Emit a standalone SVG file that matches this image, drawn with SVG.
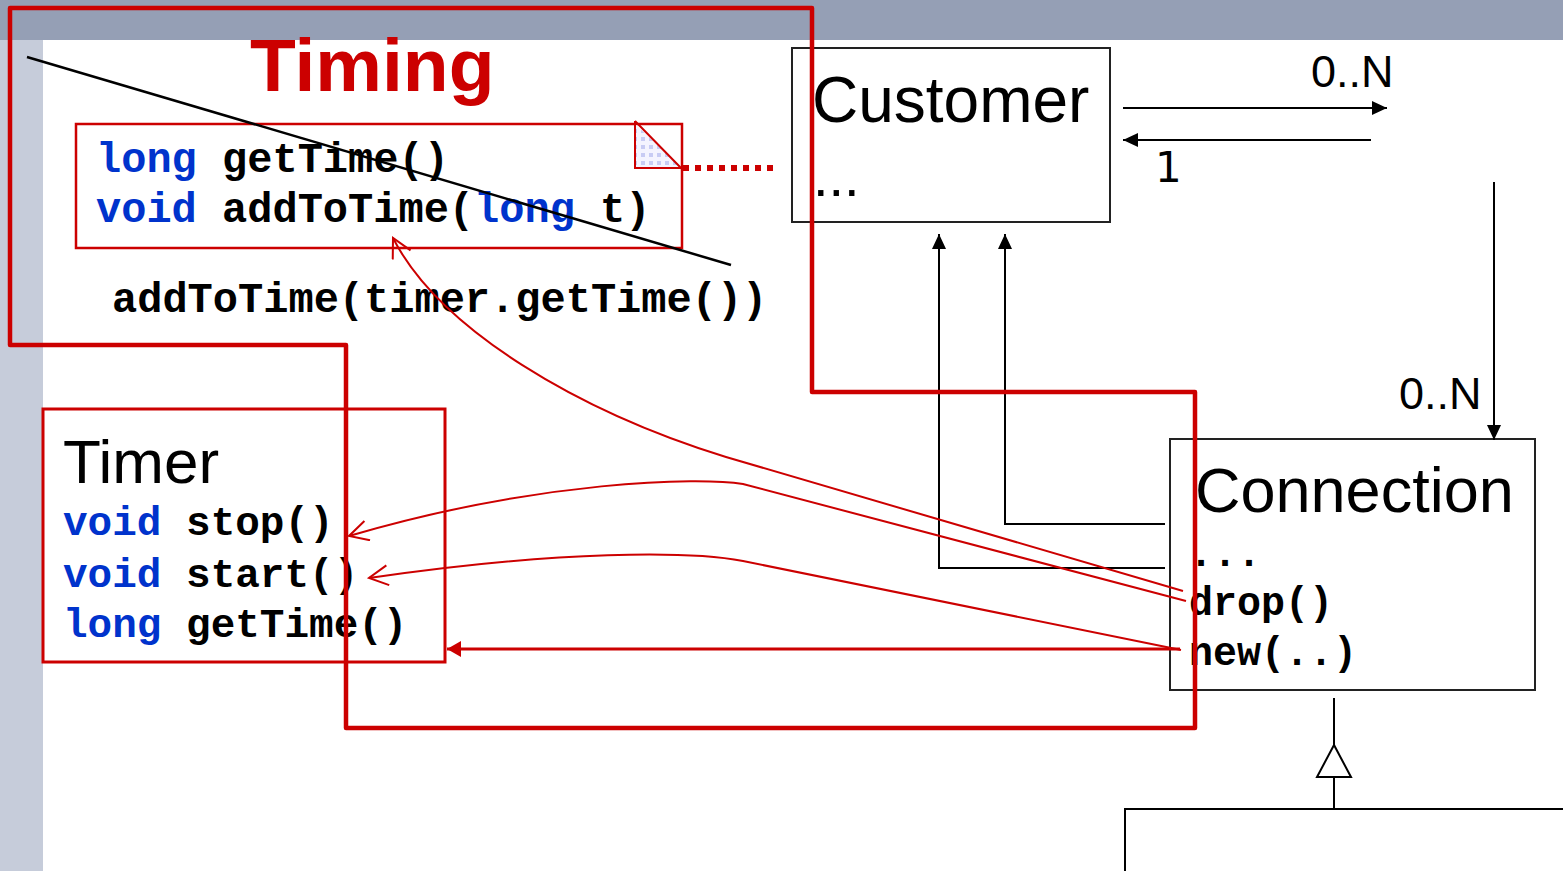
<svg xmlns="http://www.w3.org/2000/svg" width="1563" height="871" viewBox="0 0 1563 871">
<style>
.mono{font-family:"Liberation Mono","Courier New",monospace;font-weight:bold;fill:#000}
.kw{fill:#0033CC}
.sans{font-family:"Liberation Sans",Arial,sans-serif;fill:#000}
.box{fill:#fff;stroke:#222;stroke-width:2}
.blk{fill:none;stroke:#000;stroke-width:2}
.rthin{fill:none;stroke:#CC0000;stroke-width:2}
</style>
<defs>
<pattern id="dots" width="8" height="8" patternUnits="userSpaceOnUse">
<rect width="8" height="8" fill="#F4F4FF"/>
<rect x="1" y="1" width="4" height="4" fill="#C8CCF4"/>
</pattern>
<marker id="ablk" markerUnits="userSpaceOnUse" markerWidth="16" markerHeight="16" refX="15" refY="7" orient="auto">
<path d="M0,0 L15,7 L0,14 z" fill="#000"/>
</marker>
<marker id="ared" markerUnits="userSpaceOnUse" markerWidth="16" markerHeight="18" refX="14" refY="8" orient="auto">
<path d="M0,0 L14,8 L0,16 z" fill="#CC0000"/>
</marker>
<marker id="aopen" markerUnits="userSpaceOnUse" markerWidth="24" markerHeight="24" refX="20" refY="11" orient="auto">
<path d="M1,1 L20,11 L1,21" fill="none" stroke="#CC0000" stroke-width="2"/>
</marker>
</defs>

<rect x="0" y="0" width="1563" height="871" fill="#fff"/>
<rect x="0" y="0" width="1563" height="40" fill="#959FB5"/>
<rect x="0" y="40" width="43" height="831" fill="#C6CCDA"/>

<text x="250" y="91" style="font-family:'Liberation Sans',Arial,sans-serif;font-weight:bold;font-size:75px;fill:#CC0000">Timing</text>

<g id="note">
<rect x="76" y="124" width="606" height="124" fill="#fff" stroke="#CC0000" stroke-width="2.5"/>
<path d="M635,124 L635,168 L682,168 z" fill="url(#dots)"/>
<path d="M635,121 L635,168 L682,168 M635,121 L682,169" fill="none" stroke="#CC0000" stroke-width="2"/>
<text class="mono" x="96" y="172" font-size="42"><tspan class="kw">long</tspan> getTime()</text>
<text class="mono" x="96" y="222" font-size="42"><tspan class="kw">void</tspan> addToTime(<tspan class="kw">long</tspan> t)</text>
</g>

<g id="customer">
<rect class="box" x="792" y="48" width="318" height="174"/>
<text class="sans" x="812" y="122" font-size="64">Customer</text>
<text class="sans" x="813" y="196" font-size="56">...</text>
</g>

<g id="connection">
<rect class="box" x="1170" y="439" width="365" height="251"/>
<text class="sans" x="1195" y="512" font-size="63">Connection</text>
<text class="mono" x="1189" y="566" font-size="40">...</text>
<text class="mono" x="1189" y="615" font-size="40">drop()</text>
<text class="mono" x="1189" y="665" font-size="40">new(..)</text>
</g>

<g id="timer">
<rect x="43" y="409" width="402" height="253" fill="#fff" stroke="#CC0000" stroke-width="3"/>
<text class="sans" x="63" y="483" font-size="62">Timer</text>
<text class="mono" x="63" y="535" font-size="41"><tspan class="kw">void</tspan> stop()</text>
<text class="mono" x="63" y="587" font-size="41"><tspan class="kw">void</tspan> start()</text>
<text class="mono" x="63" y="637" font-size="41"><tspan class="kw">long</tspan> getTime()</text>
</g>

<g id="subclass">
<path class="blk" d="M1125,871 V809 H1563"/>
</g>

<text id="call" class="mono" x="112" y="312" font-size="42">addToTime(timer.getTime())</text>

<g id="connectors">
<path d="M27,57 L731,265" fill="none" stroke="#000" stroke-width="2.5"/>
<path d="M683,168 H773" fill="none" stroke="#CC0000" stroke-width="6" stroke-dasharray="6 6"/>
<path class="blk" d="M1123,108 H1387" marker-end="url(#ablk)"/>
<path class="blk" d="M1371,140 H1123" marker-end="url(#ablk)"/>
<path class="blk" d="M1494,182 V440" marker-end="url(#ablk)"/>
<path class="blk" d="M1165,568 H939 V234" marker-end="url(#ablk)"/>
<path class="blk" d="M1165,524 H1005 V234" marker-end="url(#ablk)"/>
<path class="blk" d="M1334,698 V745 M1334,777 V809"/>
<polygon points="1334,745 1317,777 1351,777" fill="#fff" stroke="#000" stroke-width="2"/>
<path class="rthin" d="M1183,591 L726,457 C580,412 440,330 393,238" marker-end="url(#aopen)"/>
<path class="rthin" d="M1186,601 L743,484 C700,477 540,480 349,536" marker-end="url(#aopen)"/>
<path class="rthin" d="M1181,650 L743,561 C690,551 560,550 369,578" marker-end="url(#aopen)"/>
<path d="M1180,649 L447,649" fill="none" stroke="#CC0000" stroke-width="3" marker-end="url(#ared)"/>
</g>

<g id="labels">
<text class="sans" x="1311" y="87" font-size="45">0..N</text>
<text class="sans" x="1399" y="409" font-size="45">0..N</text>
<text x="1155" y="182" style="font-family:'DejaVu Sans',sans-serif;font-size:42px;fill:#000">1</text>
</g>

<path id="aspect" d="M10,8 H812 V392 H1195 V728 H346 V345 H10 Z" fill="none" stroke="#CC0000" stroke-width="4.5" stroke-linejoin="round"/>
</svg>
